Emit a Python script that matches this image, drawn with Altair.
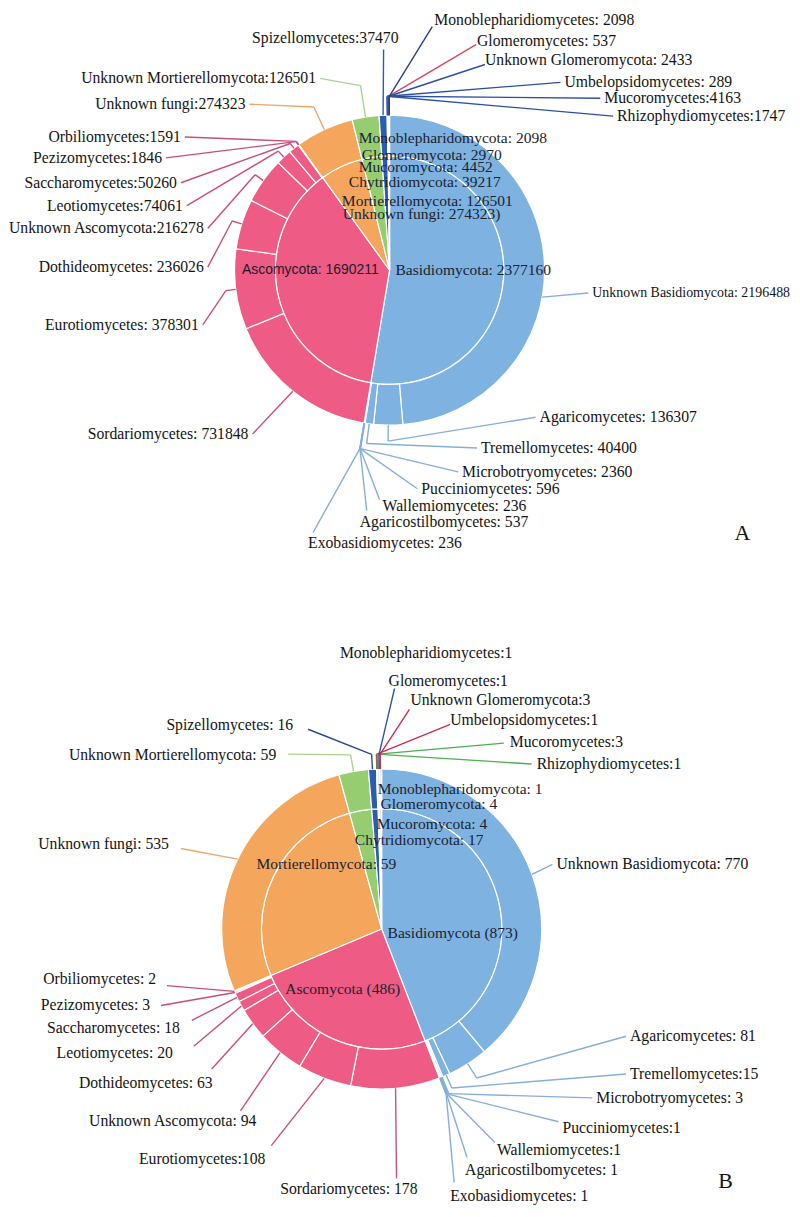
import math
import altair as alt
import pandas as pd

# ------------------------------------------------------------------ data A
A_PHYLA = ["Basidiomycota", "Ascomycota", "Unknown fungi", "Mortierellomycota",
           "Chytridiomycota", "Mucoromycota", "Glomeromycota", "Monoblepharidomycota"]
A_PHYLUM_VALUES = [2377160, 1690211, 274323, 126501, 39217, 4452, 2970, 2098]
A_PHYLUM_LABELS = ["Basidiomycota: 2377160", "Ascomycota: 1690211", "Unknown fungi: 274323)",
                   "Mortierellomycota: 126501", "Chytridiomycota: 39217", "Mucoromycota: 4452",
                   "Glomeromycota: 2970", "Monoblepharidomycota: 2098"]
A_CLASSES = ["Unknown Basidiomycota", "Agaricomycetes", "Tremellomycetes", "Microbotryomycetes",
             "Pucciniomycetes", "Wallemiomycetes", "Agaricostilbomycetes", "Exobasidiomycetes",
             "Sordariomycetes", "Eurotiomycetes", "Dothideomycetes", "Unknown Ascomycota",
             "Leotiomycetes", "Saccharomycetes", "Pezizomycetes", "Orbiliomycetes",
             "Unknown fungi", "Unknown Mortierellomycota", "Spizellomycetes", "Rhizophydiomycetes",
             "Umbelopsidomycetes", "Mucoromycetes", "Glomeromycetes", "Unknown Glomeromycota",
             "Monoblepharidiomycetes"]
A_CLASS_PHYLUM = ["Basidiomycota"] * 8 + ["Ascomycota"] * 8 + [
    "Unknown fungi", "Mortierellomycota", "Chytridiomycota", "Chytridiomycota",
    "Mucoromycota", "Mucoromycota", "Glomeromycota", "Glomeromycota", "Monoblepharidomycota"]
A_CLASS_VALUES = [2196488, 136307, 40400, 2360, 596, 236, 537, 236,
                  731848, 378301, 236026, 216278, 74061, 50260, 1846, 1591,
                  274323, 126501, 37470, 1747, 289, 4163, 537, 2433, 2098]
A_CLASS_SEP = [": ", ": ", ": ", ": ", ": ", ": ", ": ", ": ",
               ": ", ": ", ": ", ":", ":", ":", ":", ":",
               ":", ":", ":", ":", ": ", ":", ": ", ": ", ": "]

# ------------------------------------------------------------------ data B
B_PHYLUM_VALUES = [873, 486, 535, 59, 17, 4, 4, 1]
B_PHYLUM_LABELS = ["Basidiomycota (873)", "Ascomycota (486)", "",
                   "Mortierellomycota: 59", "Chytridiomycota: 17", "Mucoromycota: 4",
                   "Glomeromycota: 4", "Monoblepharidomycota: 1"]
B_CLASSES = ["Unknown Basidiomycota", "Agaricomycetes", "Tremellomycetes", "Microbotryomycetes",
             "Pucciniomycetes", "Wallemiomycetes", "Agaricostilbomycetes", "Exobasidiomycetes",
             "Sordariomycetes", "Eurotiomycetes", "Unknown Ascomycota", "Dothideomycetes",
             "Leotiomycetes", "Saccharomycetes", "Pezizomycetes", "Orbiliomycetes",
             "Unknown fungi", "Unknown Mortierellomycota", "Spizellomycetes", "Rhizophydiomycetes",
             "Umbelopsidomycetes", "Mucoromycetes", "Glomeromycetes", "Unknown Glomeromycota",
             "Monoblepharidiomycetes"]
B_CLASS_PHYLUM = A_CLASS_PHYLUM
B_CLASS_VALUES = [770, 81, 15, 3, 1, 1, 1, 1,
                  178, 108, 94, 63, 20, 18, 3, 2,
                  535, 59, 16, 1, 1, 3, 1, 3, 1]
B_CLASS_SEP = [": ", ": ", ":", ": ", ":", ":", ": ", ": ",
               ": ", ":", ": ", ": ", ": ", ": ", ": ", ": ",
               ": ", ": ", ": ", ":", ":", ":", ":", ":", ":"]

# ------------------------------------------------------------------ styles
PHYLUM_COLORS = ["#7EB2E1", "#EE5B85", "#F3A65C", "#95CD70",
                 "#2D5BB0", "#5AA83C", "#D04050", "#23408C"]
LINE_PHYLUM = {"Basidiomycota": "#86AEDA", "Ascomycota": "#C84F78", "Unknown fungi": "#EBA86A",
               "Mortierellomycota": "#A8D38E"}
LINE_A_CLASS = {"Spizellomycetes": "#2D5BB0", "Rhizophydiomycetes": "#2D50A5",
                "Umbelopsidomycetes": "#2D50A5", "Mucoromycetes": "#2D50A5",
                "Glomeromycetes": "#D84860", "Unknown Glomeromycota": "#2D50A5",
                "Monoblepharidiomycetes": "#2A3F80"}
LINE_B_CLASS = {"Spizellomycetes": "#2A4A90", "Rhizophydiomycetes": "#4CAF50",
                "Umbelopsidomycetes": "#C83050", "Mucoromycetes": "#4CAF50",
                "Glomeromycetes": "#3055A8", "Unknown Glomeromycota": "#C83050",
                "Monoblepharidiomycetes": None}

# ------------------------------------------------------------------ layout (page pixels)
W = 784
HA, HB = 600, 601
OX = 8
OYA, OYB = 8, 8 + HA
SERIF = "Liberation Serif"

GEO_A = dict(cx=387, cy=265, r_out=156, r_in=115)
GEO_B = dict(cx=379, cy=928, r_out=161, r_in=121)

LAYOUT_A = {
    "Unknown Basidiomycota": dict(tx=591, ty=288, al="left", ang=100, fs=14),
    "Agaricomycetes": dict(tx=538, ty=413, al="left", el=16),
    "Tremellomycetes": dict(tx=479, ty=444, al="left", el=20),
    "Microbotryomycetes": dict(tx=460, ty=468, al="left", el=26),
    "Pucciniomycetes": dict(tx=419, ty=485, al="left", el=26),
    "Wallemiomycetes": dict(tx=380, ty=502, al="left", el=26, ex=377, ey=496),
    "Agaricostilbomycetes": dict(tx=357, ty=518, al="left", el=26, ex=364, ey=507),
    "Exobasidiomycetes": dict(tx=305, ty=540, al="left", el=26, ex=310, ey=529),
    "Sordariomycetes": dict(tx=245, ty=430, al="right"),
    "Eurotiomycetes": dict(tx=195, ty=320, al="right", el=10),
    "Dothideomycetes": dict(tx=200, ty=262, al="right", el=10),
    "Unknown Ascomycota": dict(tx=200, ty=223, al="right", el=10),
    "Leotiomycetes": dict(tx=179, ty=200, al="right", el=8),
    "Saccharomycetes": dict(tx=173, ty=177, al="right", el=6),
    "Pezizomycetes": dict(tx=158, ty=152, al="right", el=4),
    "Orbiliomycetes": dict(tx=177, ty=131, al="right", el=4),
    "Unknown fungi": dict(tx=242, ty=98, al="right", el=25),
    "Unknown Mortierellomycota": dict(tx=313, ty=72, al="right", el=32),
    "Spizellomycetes": dict(tx=396, ty=31, al="right", ex=381, ey=43),
    "Rhizophydiomycetes": dict(tx=616, ty=110, al="left", el=19),
    "Umbelopsidomycetes": dict(tx=563, ty=76, al="left", el=19),
    "Mucoromycetes": dict(tx=603, ty=92, al="left", el=19),
    "Glomeromycetes": dict(tx=475, ty=34, al="left", el=19, ex=474, ey=38),
    "Unknown Glomeromycota": dict(tx=483, ty=54, al="left", el=19, ex=483, ey=58),
    "Monoblepharidiomycetes": dict(tx=432, ty=13, al="left", el=19, ex=430, ey=20),
}
INNER_A = {
    "Basidiomycota": (393, 265, "left"),
    "Ascomycota": (376, 265, "right-sans"),
    "Unknown fungi": (340, 209, "left"),
    "Mortierellomycota": (339, 195, "left"),
    "Chytridiomycota": (346, 176, "left"),
    "Mucoromycota": (356, 161, "left"),
    "Glomeromycota": (359, 149, "left"),
    "Monoblepharidomycota": (356, 132, "left"),
}
LAYOUT_B = {
    "Unknown Basidiomycota": dict(tx=555, ty=863, al="left"),
    "Agaricomycetes": dict(tx=629, ty=1036, al="left", el=17),
    "Tremellomycetes": dict(tx=629, ty=1074, al="left", el=14),
    "Microbotryomycetes": dict(tx=595, ty=1098, al="left", el=18),
    "Pucciniomycetes": dict(tx=561, ty=1128, al="left", el=18, ex=557, ey=1122),
    "Wallemiomycetes": dict(tx=495, ty=1150, al="left", el=18, ex=493, ey=1143),
    "Agaricostilbomycetes": dict(tx=463, ty=1171, al="left", el=18, ex=465, ey=1158),
    "Exobasidiomycetes": dict(tx=448, ty=1197, al="left", el=18, ex=452, ey=1183),
    "Sordariomycetes": dict(tx=277, ty=1190, al="left", ex=394, ey=1179),
    "Eurotiomycetes": dict(tx=262, ty=1160, al="right", ex=268, ey=1146),
    "Unknown Ascomycota": dict(tx=253, ty=1121, al="right", ex=237, ey=1111),
    "Dothideomycetes": dict(tx=209, ty=1083, al="right", ex=208, ey=1069),
    "Leotiomycetes": dict(tx=169, ty=1053, al="right", ex=190, ey=1046),
    "Saccharomycetes": dict(tx=176, ty=1028, al="right", ex=188, ey=1020),
    "Pezizomycetes": dict(tx=146, ty=1005, al="right", ex=157, ey=1005),
    "Orbiliomycetes": dict(tx=152, ty=978, al="right", ex=163, ey=985),
    "Unknown fungi": dict(tx=165, ty=843, al="right", ex=177, ey=847),
    "Unknown Mortierellomycota": dict(tx=273, ty=753, al="right", el=17, ex=285, ey=752),
    "Spizellomycetes": dict(tx=290, ty=723, al="right", el=15, ex=305, ey=727),
    "Rhizophydiomycetes": dict(tx=535, ty=762, al="left", el=15, ex=530, ey=762),
    "Umbelopsidomycetes": dict(tx=448, ty=718, al="left", el=15, ex=448, ey=722),
    "Mucoromycetes": dict(tx=508, ty=740, al="left", el=15, ex=502, ey=741),
    "Glomeromycetes": dict(tx=386, ty=678, al="left", el=15, ex=392, ey=686),
    "Unknown Glomeromycota": dict(tx=408, ty=698, al="left", el=15, ex=407, ey=707),
    "Monoblepharidiomycetes": dict(tx=337, ty=650, al="left"),
}
INNER_B = {
    "Basidiomycota": (385, 932, "left"),
    "Ascomycota": (282, 988, "left"),
    "Mortierellomycota": (253, 863, "left"),
    "Chytridiomycota": (352, 839, "left"),
    "Mucoromycota": (374, 822, "left"),
    "Glomeromycota": (378, 802, "left"),
    "Monoblepharidomycota": (375, 787, "left"),
}


def pt(cx, cy, r, deg):
    a = math.radians(deg)
    return cx + r * math.sin(a), cy - r * math.cos(a)


def build_panel(pvals, plabels, classes, cphyl, cvals, csep, layout, inner, geo, oy, H,
                letter, letter_pos, fs_out, line_class_colors):
    cx, cy = geo["cx"] - OX, geo["cy"] - oy
    r_out, r_in = geo["r_out"], geo["r_in"]
    total = float(sum(pvals))

    rows, start = [], 0.0
    pstart = {}
    for name, v in zip(A_PHYLA, pvals):
        pstart[name] = start
        rows.append(dict(phylum=name, t0=start / total, t1=(start + v) / total, cx=cx, cy=cy))
        start += v
    inner_df = pd.DataFrame(rows)

    rows = []
    offs = {k: 0.0 for k in A_PHYLA}
    for name, ph, v in zip(classes, cphyl, cvals):
        s = pstart[ph] + offs[ph]
        offs[ph] += v
        rows.append(dict(cls=name, phylum=ph, t0=s / total, t1=(s + v) / total, cx=cx, cy=cy))
    outer_df = pd.DataFrame(rows)

    segs, texts = [], []
    for r, sep, v in zip(rows, csep, cvals):
        name = r["cls"]
        lay = layout[name]
        tx, ty = lay["tx"] - OX, lay["ty"] - oy
        texts.append(dict(x=tx, y=ty, text=f"{name}{sep}{v}", fs=lay.get("fs", fs_out), al=lay["al"]))
        col = line_class_colors.get(name, "missing")
        if col is None:
            continue
        if col == "missing":
            col = LINE_PHYLUM[r["phylum"]]
        ang = lay.get("ang", (r["t0"] + r["t1"]) / 2 * 360)
        p0 = pt(cx, cy, r_out, ang)
        if "ex" in lay:
            end = (lay["ex"] - OX, lay["ey"] - oy)
        else:
            end = (tx - 4, ty) if lay["al"] == "left" else (tx + 4, ty)
        el = lay.get("el", 0)
        if el:
            p1 = pt(cx, cy, r_out + el, ang)
            segs.append(dict(x1=p0[0], y1=p0[1], x2=p1[0], y2=p1[1], c=col))
            segs.append(dict(x1=p1[0], y1=p1[1], x2=end[0], y2=end[1], c=col))
        else:
            segs.append(dict(x1=p0[0], y1=p0[1], x2=end[0], y2=end[1], c=col))
    seg_df = pd.DataFrame(segs)
    txt_df = pd.DataFrame(texts)

    inner_txt = []
    for name, lab in zip(A_PHYLA, plabels):
        if name in inner:
            x, y, al = inner[name]
            inner_txt.append(dict(x=x - OX, y=y - oy, text=lab, al=al))
    inner_df_t = pd.DataFrame(inner_txt)

    xs = alt.Scale(domain=[0, W], nice=False, zero=False)
    ys = alt.Scale(domain=[0, H], nice=False, zero=False, reverse=True)
    ts = alt.Scale(domain=[0, 1], range=[0, 2 * math.pi])
    cs = alt.Scale(domain=A_PHYLA, range=PHYLUM_COLORS)

    def arc_layer(df, **mk):
        return alt.Chart(df).mark_arc(stroke="white", strokeWidth=1.2, **mk).encode(
            x=alt.X("cx:Q", scale=xs, axis=None),
            y=alt.Y("cy:Q", scale=ys, axis=None),
            theta=alt.Theta("t0:Q", scale=ts, stack=False),
            theta2="t1:Q",
            color=alt.Color("phylum:N", scale=cs, legend=None),
        )

    pie = arc_layer(inner_df, radius=r_in)
    ring = arc_layer(outer_df, radius=r_out, radius2=r_in)

    lines = alt.Chart(seg_df).mark_rule(strokeWidth=1.4).encode(
        x=alt.X("x1:Q", scale=xs, axis=None), y=alt.Y("y1:Q", scale=ys, axis=None),
        x2="x2:Q", y2="y2:Q", color=alt.Color("c:N", scale=None))

    def text_layer(df, align, font, color="#141414", size=None):
        enc = dict(x=alt.X("x:Q", scale=xs, axis=None), y=alt.Y("y:Q", scale=ys, axis=None),
                   text="text:N")
        mk = dict(align=align, baseline="middle", font=font, color=color)
        if size is None:
            enc["size"] = alt.Size("fs:Q", scale=None)
        else:
            mk["fontSize"] = size
        return alt.Chart(df).mark_text(**mk).encode(**enc)

    layers = [pie, ring, lines,
              text_layer(txt_df[txt_df.al == "left"], "left", SERIF),
              text_layer(txt_df[txt_df.al == "right"], "right", SERIF)]
    il = inner_df_t[inner_df_t.al == "left"]
    ir = inner_df_t[inner_df_t.al == "right-sans"]
    layers.append(text_layer(il, "left", SERIF, color="#1b2230", size=15.6))
    if len(ir):
        layers.append(text_layer(ir, "right", "Liberation Sans", color="#1b1b28", size=14))
    let_df = pd.DataFrame([dict(x=letter_pos[0] - OX, y=letter_pos[1] - oy, text=letter)])
    layers.append(text_layer(let_df, "center", SERIF, size=22))

    return alt.layer(*layers).properties(width=W, height=H)


panel_a = build_panel(A_PHYLUM_VALUES, A_PHYLUM_LABELS, A_CLASSES, A_CLASS_PHYLUM, A_CLASS_VALUES,
                      A_CLASS_SEP, LAYOUT_A, INNER_A, GEO_A, OYA, HA, "A", (742, 530), 15.8,
                      LINE_A_CLASS)
panel_b = build_panel(B_PHYLUM_VALUES, B_PHYLUM_LABELS, B_CLASSES, B_CLASS_PHYLUM, B_CLASS_VALUES,
                      B_CLASS_SEP, LAYOUT_B, INNER_B, GEO_B, OYB, HB, "B", (725, 1182), 15.8,
                      LINE_B_CLASS)

chart = alt.vconcat(panel_a, panel_b, spacing=0, bounds="flush").properties(
    padding=0
).configure_view(stroke=None)

chart.save("out.html", embed_options={"renderer": "svg", "actions": False})
